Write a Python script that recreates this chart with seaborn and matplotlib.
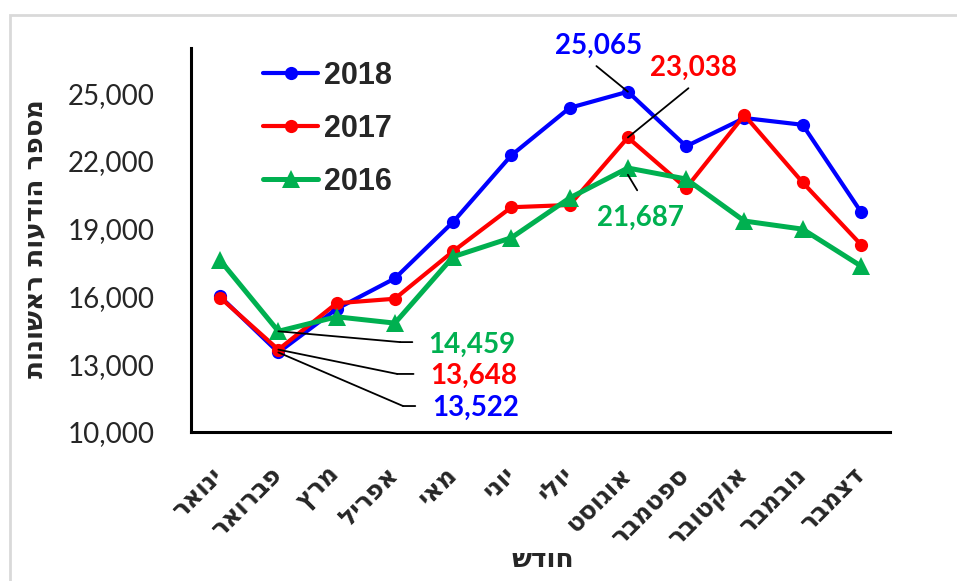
import pandas as pd
import matplotlib
matplotlib.use('Agg')
import matplotlib.pyplot as plt
import seaborn as sns
from matplotlib.patches import Rectangle

# data
months = ['ינואר', 'פברואר', 'מרץ', 'אפריל', 'מאי', 'יוני',
          'יולי', 'אוגוסט', 'ספטמבר', 'אוקטובר', 'נובמבר', 'דצמבר']
v2018 = [16000, 13522, 15450, 16800, 19300, 22250, 24350, 25065, 22650, 23900, 23600, 19750]
v2017 = [15950, 13648, 15700, 15900, 18000, 19950, 20050, 23038, 20800, 24030, 21050, 18300]
v2016 = [17600, 14459, 15100, 14820, 17760, 18600, 20360, 21687, 21200, 19340, 18980, 17350]
years = ['2018', '2017', '2016']
colors = {'2018': '#0000FF', '2017': '#FF0000', '2016': '#00B050'}
yticks = [10000, 13000, 16000, 19000, 22000, 25000]

ylabel = 'מספר הודעות ראשונות'
xlabel = 'חודש'

def rtl(s):
    # matplotlib has no bidi, flip the hebrew by hand
    return s[::-1]

heb = ['DejaVu Sans']

df = pd.DataFrame({
    'month': list(range(12)) * 3,
    'value': v2018 + v2017 + v2016,
    'year': ['2018'] * 12 + ['2017'] * 12 + ['2016'] * 12,
})

sns.set_style('white')
plt.rcParams['font.family'] = ['Lato', 'DejaVu Sans']

fig = plt.figure(figsize=(9.57, 5.81), dpi=100)
ax = fig.add_axes([191 / 957, 1 - 432 / 581, 699 / 957, 384 / 581])

for yr in years:
    sub = df[df['year'] == yr]
    mk = '^' if yr == '2016' else 'o'
    sns.lineplot(data=sub, x='month', y='value', color=colors[yr], ax=ax,
                 marker=mk, markersize=13 if yr == '2016' else 9.5,
                 markeredgewidth=0, lw=3.6 if yr == '2016' else 3,
                 label=yr, sort=False)

ax.set_xlim(-0.5, 11.5)
ax.set_ylim(10000, 27000)
ax.set_yticks(yticks)
ax.set_yticklabels([f'{t:,}' for t in yticks], fontsize=20)
ax.set_xticks(range(12))
ax.set_xticklabels([rtl(m) for m in months], rotation=45, ha='right', va='center',
                   rotation_mode='anchor', fontsize=18, fontweight='bold', family=heb)
ax.tick_params(axis='y', length=0, pad=26)
ax.tick_params(axis='x', length=0, pad=28)
ax.set_xlabel('')
ax.set_ylabel('')
for s in ['top', 'right']:
    ax.spines[s].set_visible(False)
for s in ['left', 'bottom']:
    ax.spines[s].set_color('black')
    ax.spines[s].set_linewidth(2.2)

leg = ax.legend(loc='upper left', bbox_to_anchor=(263 / 957, 1 - 61 / 581),
                bbox_transform=fig.transFigure, frameon=False, borderpad=0,
                borderaxespad=0, handlelength=1.8, handletextpad=0.2,
                labelspacing=0.75, prop={'family': 'Liberation Sans', 'weight': 'bold', 'size': 22})

# value callouts
lab = dict(fontsize=20, fontweight='bold')
line = dict(arrowstyle='-', color='black', lw=1.3, shrinkA=0, shrinkB=0)
ax.text(6.49, 27080, f'{v2018[7]:,}', color=colors['2018'], ha='center', va='center', clip_on=False, **lab)
ax.annotate('', xy=(7, v2018[7]), xytext=(6.46, 26200), arrowprops=line, annotation_clip=False)
ax.text(8.13, 26100, f'{v2017[7]:,}', color=colors['2017'], ha='center', va='center', **lab)
ax.annotate('', xy=(7, v2017[7]), xytext=(8.04, 25220), arrowprops=line)
ax.text(7.22, 19500, f'{v2016[7]:,}', color=colors['2016'], ha='center', va='center', **lab)
ax.annotate('', xy=(7, v2016[7] - 300), xytext=(7.16, 20700), arrowprops=line)

# february callouts: slanted leader + short horizontal stub
feb = [(v2016[1], '2016', 13850, 3.57, 13980, 3.09, 3.30),
       (v2017[1], '2017', 12480, 3.61, 12570, 3.04, 3.32),
       (v2018[1], '2018', 11060, 3.64, 11150, 3.14, 3.35)]
for val, yr, ty, tx, ly, knee, end in feb:
    ax.text(tx, ty, f'{val:,}', color=colors[yr], ha='left', va='center', **lab)
    ax.annotate('', xy=(1, val), xytext=(knee, ly), arrowprops=line)
    ax.annotate('', xy=(knee, ly), xytext=(end, ly), arrowprops=line)

fig.text(35 / 957, 1 - 239 / 581, rtl(ylabel), rotation=90, ha='center', va='center',
         fontsize=19, fontweight='bold', family=heb)
fig.text(543 / 957, 1 - 560 / 581, rtl(xlabel), ha='center', va='center',
         fontsize=19, fontweight='bold', family=heb)

fig.patches.append(Rectangle((10 / 957, -0.1), 1.2, 1.1 - 15 / 581,
                             transform=fig.transFigure, fill=False,
                             edgecolor='#d9d9d9', lw=2))

fig.savefig('out.png', dpi=100)
